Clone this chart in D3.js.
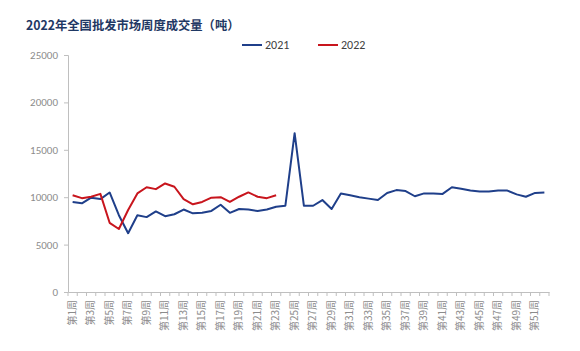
<!DOCTYPE html>
<html><head><meta charset="utf-8">
<script src="https://cdn.jsdelivr.net/npm/d3@7"></script>
<style>body{margin:0;background:#fff}svg{display:block}</style>
</head><body><svg id="c" width="580" height="351"></svg>
<script>
const weeks = d3.range(1, 53).map(i => "第" + i + "周");
const s2021 = [9500,9350,9950,9800,10500,8100,6200,8100,7900,8500,8000,8200,8700,8300,8350,8550,9200,8350,8750,8700,8550,8700,9000,9100,16750,9100,9100,9700,8750,10400,10200,10000,9850,9700,10450,10750,10650,10100,10400,10400,10350,11050,10900,10700,10600,10600,10700,10700,10300,10050,10450,10500];
const s2022 = [10200,9900,10050,10350,7300,6650,8650,10400,11050,10850,11450,11100,9800,9250,9500,9950,10000,9500,10050,10500,10050,9900,10200];
const yTicks = [0,5000,10000,15000,20000,25000];
const seriesNames = ["2021","2022"];
const colors = ["#1f3f8a","#c8151d"];

const svg = d3.select("#c");
const m = {l:68, r:31, t:55, b:59};
const W = 580, H = 351;
const x = d3.scaleBand().domain(weeks).range([m.l, W - m.r]);
const y = d3.scaleLinear().domain([0,25000]).range([H - m.b, m.t]);

svg.append("text").attr("x",26).attr("y",30).text("2022年全国批发市场周度成交量（吨）")
  .attr("font-family","'Noto Sans CJK SC', sans-serif").attr("font-weight","bold")
  .attr("font-size",12.3).attr("fill","#1f3864");

// y axis
const ya = svg.append("g").attr("transform",`translate(${m.l},0)`)
  .call(d3.axisLeft(y).tickValues(yTicks).tickSize(4).tickPadding(6).tickFormat(d3.format("d")));
ya.select(".domain").attr("stroke","#bfbfbf");
ya.selectAll(".tick line").attr("stroke","#bfbfbf");
ya.selectAll("text").attr("fill","#8c8c8c").attr("font-size",11).attr("font-family","Calibri, 'Liberation Sans', sans-serif");

// x axis
const xa = svg.append("g").attr("transform",`translate(0,${H-m.b})`)
  .call(d3.axisBottom(x).tickSize(0).tickFormat((d,i)=> i%2===0 ? d : ""));
xa.select(".domain").attr("stroke","#bfbfbf");
xa.selectAll("text").attr("fill","#8c8c8c").attr("font-size",10)
  .attr("font-family","'Noto Sans CJK SC', sans-serif")
  .attr("transform","rotate(-90)").attr("text-anchor","end")
  .attr("dx","0").attr("dy","0.32em").attr("y",0).attr("x",-8);
// boundary ticks
const bx = weeks.map(w => x(w)).concat([x(weeks[weeks.length-1]) + x.bandwidth()]);
svg.append("g").selectAll("line").data(bx).join("line")
  .attr("x1",d=>d).attr("x2",d=>d).attr("y1",H-m.b).attr("y2",H-m.b+4).attr("stroke","#bfbfbf");

const line = d3.line().x((d,i)=>x(weeks[i]) + x.bandwidth()/2).y(d=>y(d));
[s2021, s2022].forEach((s,k)=>{
  svg.append("path").datum(s).attr("d",line).attr("fill","none")
    .attr("stroke",colors[k]).attr("stroke-width",2).attr("stroke-linejoin","round");
});

// legend
const lg = svg.append("g");
const lx = [242, 318];
seriesNames.forEach((n,k)=>{
  lg.append("line").attr("x1",lx[k]).attr("x2",lx[k]+20).attr("y1",45).attr("y2",45)
    .attr("stroke",colors[k]).attr("stroke-width",2);
  lg.append("text").attr("x",lx[k]+23).attr("y",49).text(n).attr("font-size",12)
    .attr("fill","#404040").attr("font-family","Calibri, 'Liberation Sans', sans-serif");
});
</script></body></html>
